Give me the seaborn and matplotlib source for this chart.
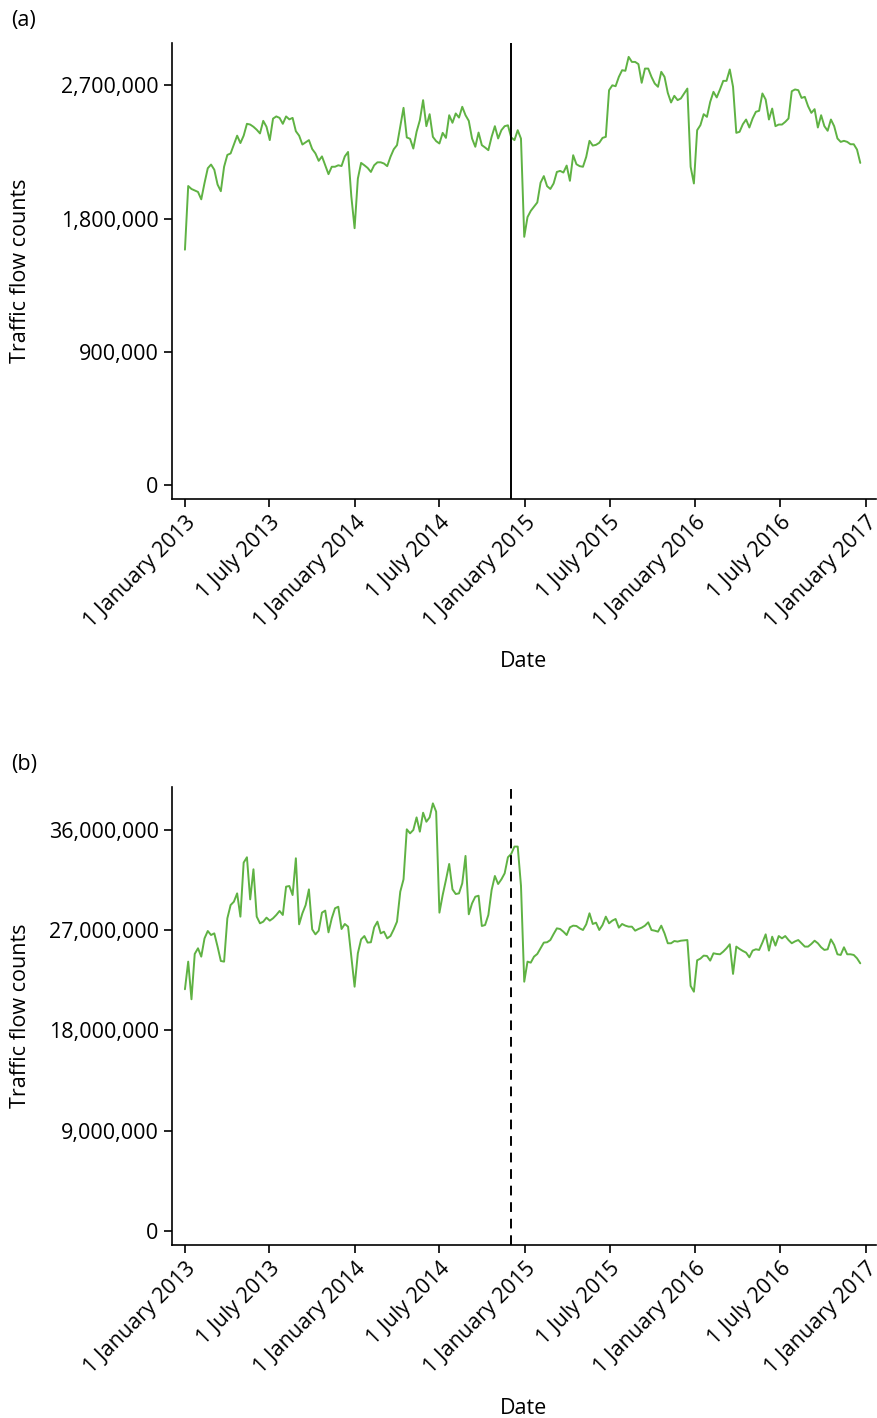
import numpy as np
import pandas as pd
import matplotlib
matplotlib.use("Agg")
import matplotlib.pyplot as plt
import matplotlib.ticker as mticker
import seaborn as sns

# weekly traffic flow counts (millions)
flow_a = [
    1.59, 2.02, 2.00, 1.99, 1.98, 1.93, 2.04, 2.14, 2.165, 2.13,
    2.03, 1.985, 2.15, 2.23, 2.24, 2.30, 2.36, 2.31, 2.36, 2.44,
    2.435, 2.42, 2.40, 2.375, 2.46, 2.42, 2.33, 2.475, 2.49, 2.48,
    2.44, 2.49, 2.47, 2.48, 2.39, 2.36, 2.30, 2.315, 2.33, 2.27,
    2.24, 2.19, 2.22, 2.16, 2.10, 2.15, 2.15, 2.16, 2.155, 2.22,
    2.25, 1.95, 1.735, 2.07, 2.176, 2.16, 2.142, 2.115, 2.16, 2.18,
    2.18, 2.172, 2.154, 2.217, 2.268, 2.296, 2.42, 2.548, 2.348, 2.339,
    2.273, 2.386, 2.464, 2.60, 2.424, 2.505, 2.352, 2.323, 2.307, 2.379,
    2.345, 2.498, 2.447, 2.51, 2.482, 2.555, 2.498, 2.46, 2.341, 2.285,
    2.381, 2.296, 2.28, 2.262, 2.352, 2.424, 2.341, 2.397, 2.424, 2.43,
    2.348, 2.33, 2.397, 2.34, 1.677, 1.81, 1.852, 1.88, 1.909, 2.042,
    2.087, 2.019, 2.0, 2.037, 2.115, 2.122, 2.111, 2.158, 2.055, 2.228,
    2.167, 2.154, 2.15, 2.217, 2.325, 2.293, 2.298, 2.312, 2.345, 2.352,
    2.667, 2.70, 2.694, 2.757, 2.802, 2.798, 2.892, 2.858, 2.858, 2.843,
    2.717, 2.813, 2.813, 2.757, 2.712, 2.69, 2.791, 2.757, 2.649, 2.584,
    2.629, 2.60, 2.611, 2.645, 2.678, 2.15, 2.037, 2.397, 2.431, 2.505,
    2.487, 2.588, 2.656, 2.618, 2.672, 2.73, 2.73, 2.807, 2.69, 2.379,
    2.386, 2.437, 2.469, 2.415, 2.476, 2.521, 2.528, 2.645, 2.604, 2.469,
    2.543, 2.424, 2.435, 2.435, 2.453, 2.476, 2.66, 2.672, 2.667, 2.615,
    2.622, 2.559, 2.514, 2.539, 2.415, 2.498, 2.424, 2.393, 2.469, 2.424,
    2.341, 2.318, 2.325, 2.318, 2.302, 2.302, 2.266, 2.176,
]

flow_b = [
    21.7, 24.18, 20.8, 24.87, 25.38, 24.63, 26.27, 26.93, 26.57, 26.72,
    25.53, 24.24, 24.18, 28.07, 29.26, 29.56, 30.31, 28.22, 33.07, 33.55,
    29.77, 32.47, 28.22, 27.62, 27.77, 28.13, 27.86, 28.07, 28.37, 28.73,
    28.37, 30.91, 30.97, 30.16, 33.46, 27.53, 28.52, 29.26, 30.67, 27.08,
    26.63, 26.96, 28.58, 28.76, 26.81, 28.07, 28.97, 29.11, 27.11, 27.56,
    27.32, 24.63, 21.93, 24.93, 26.18, 26.48, 25.89, 25.92, 27.26, 27.77,
    26.72, 26.87, 26.27, 26.48, 27.08, 27.77, 30.46, 31.57, 36.06, 35.7,
    36.0, 37.13, 35.85, 37.55, 36.74, 37.13, 38.39, 37.64, 28.58, 30.16,
    31.51, 32.95, 30.67, 30.25, 30.31, 31.21, 33.67, 28.43, 29.41, 30.01,
    30.1, 27.38, 27.47, 28.37, 30.61, 31.87, 31.15, 31.57, 32.11, 33.55,
    33.85, 34.51, 34.51, 31.0, 22.38, 24.18, 24.09, 24.63, 24.87, 25.38,
    25.89, 25.92, 26.12, 26.66, 27.17, 27.11, 26.87, 26.57, 27.26, 27.41,
    27.38, 27.17, 27.02, 27.53, 28.52, 27.56, 27.68, 27.02, 27.47, 28.22,
    27.62, 27.86, 28.01, 27.23, 27.56, 27.41, 27.32, 27.32, 26.96, 27.11,
    27.23, 27.41, 27.71, 27.02, 26.96, 26.87, 27.41, 26.72, 25.83, 25.83,
    26.03, 25.98, 26.06, 26.09, 26.12, 22.0, 21.48, 24.3, 24.45, 24.72,
    24.69, 24.27, 24.93, 24.87, 24.84, 25.08, 25.38, 25.74, 23.08, 25.53,
    25.32, 25.14, 24.99, 24.57, 25.17, 25.29, 25.23, 25.89, 26.63, 25.17,
    26.42, 25.62, 26.48, 26.27, 26.48, 26.12, 25.83, 26.0, 26.12, 25.83,
    25.53, 25.53, 25.77, 26.06, 25.83, 25.47, 25.23, 25.29, 26.18, 25.68,
    24.84, 24.78, 25.47, 24.84, 24.84, 24.78, 24.48, 24.03,
]

start_date = "2013-01-01"
intervention_date = "2014-12-01"
tick_dates = ["2013-01-01", "2013-07-01", "2014-01-01", "2014-07-01", "2015-01-01",
              "2015-07-01", "2016-01-01", "2016-07-01", "2017-01-01"]
tick_labels = ["1 January 2013", "1 July 2013", "1 January 2014", "1 July 2014",
               "1 January 2015", "1 July 2015", "1 January 2016", "1 July 2016",
               "1 January 2017"]
yticks_a = [0, 900000, 1800000, 2700000]
yticks_b = [0, 9000000, 18000000, 27000000, 36000000]

dates = pd.date_range(start_date, periods=len(flow_a), freq="7D")
df = pd.DataFrame({
    "Date": dates,
    "a": np.array(flow_a) * 1e6,
    "b": np.array(flow_b) * 1e6,
})

sns.set_theme(style="ticks")
plt.rcParams["font.family"] = ["Open Sans", "DejaVu Sans"]
plt.rcParams["text.color"] = "black"
plt.rcParams["axes.labelcolor"] = "black"
plt.rcParams["xtick.color"] = "black"
plt.rcParams["ytick.color"] = "black"

green = "#5fb243"
fs = 15.5
fig = plt.figure(figsize=(8.77, 14.18), dpi=100)
ax_a = fig.add_axes([0.196, 0.648, 0.803, 0.3216])
ax_b = fig.add_axes([0.196, 0.122, 0.803, 0.323])

panels = [
    (ax_a, "a", yticks_a, (-94500, 2985000), "-", "(a)"),
    (ax_b, "b", yticks_b, (-1260000, 39860000), (0, (5, 3.5)), "(b)"),
]

for ax, col, yticks, ylim, vstyle, tag in panels:
    sns.lineplot(data=df, x="Date", y=col, ax=ax, color=green, linewidth=1.4)
    ax.axvline(pd.Timestamp(intervention_date), color="black", linewidth=1.4,
               linestyle=vstyle)
    ax.set_xlim(pd.Timestamp("2012-12-04"), pd.Timestamp("2017-01-23"))
    ax.set_ylim(*ylim)
    ax.set_yticks(yticks)
    ax.yaxis.set_major_formatter(mticker.FuncFormatter(lambda v, p: f"{int(v):,}"))
    ax.set_xticks(pd.to_datetime(tick_dates))
    ax.set_xticklabels(tick_labels, rotation=45, ha="right", rotation_mode="anchor")
    ax.tick_params(axis="both", labelsize=fs, length=6, width=1.2, color="black")
    ax.set_xlabel("Date", fontsize=fs)
    ax.set_ylabel("Traffic flow counts", fontsize=fs)
    ax.xaxis.set_label_coords(0.499, -0.334)
    ax.yaxis.set_label_coords(-0.200, 0.5)
    for s in ["left", "bottom"]:
        ax.spines[s].set_color("black")
        ax.spines[s].set_linewidth(1.2)
    sns.despine(ax=ax)
    ax.text(-0.228, 1.05, tag, transform=ax.transAxes, fontsize=fs, va="center")

fig.savefig("out.png", dpi=100)
